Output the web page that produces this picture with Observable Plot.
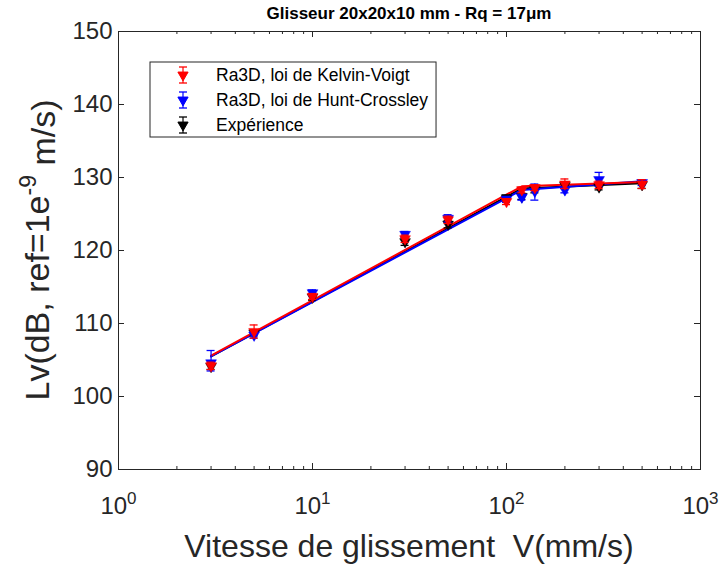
<!DOCTYPE html>
<html><head><meta charset="utf-8">
<script src="https://cdn.jsdelivr.net/npm/d3@7"></script>
<script src="https://cdn.jsdelivr.net/npm/@observablehq/plot@0.6"></script>
<style>body{margin:0;background:#fff}#chart svg{overflow:visible}</style>
</head><body><div id="chart"></div>
<script>
// ---- data ----
const speeds = [3, 5, 10, 30, 50, 100, 120, 140, 200, 300, 500];

const kelvinVoigt        = [104.2, 108.9, 113.7, 121.6, 124.2, 126.7, 128.3, 128.6, 129.1, 129.0, 129.1];
const kelvinVoigtErrLow  = [0.5, 0.9, 0.4, 0.5, 0.5, 0.4, 0.4, 0.4, 0.6, 0.5, 0.6];
const kelvinVoigtErrHigh = [0.5, 0.9, 0.4, 0.5, 0.5, 0.4, 0.4, 0.4, 0.7, 0.5, 0.6];

const huntCrossley        = [104.6, 108.4, 114.2, 122.2, 124.4, 127.0, 127.3, 128.1, 128.3, 129.7, 129.3];
const huntCrossleyErrLow  = [1.1, 0.4, 0.4, 0.4, 0.5, 0.4, 0.4, 1.2, 0.4, 0.9, 0.4];
const huntCrossleyErrHigh = [1.7, 0.4, 0.4, 0.4, 0.5, 0.4, 0.4, 1.0, 0.4, 1.0, 0.4];

const experience        = [104.1, 108.7, 113.6, 121.2, 123.6, 127.2, 127.4, 128.3, 128.9, 128.7, 129.0];
const experienceErrLow  = [0.4, 0.4, 0.4, 0.5, 0.5, 0.4, 0.4, 0.4, 0.4, 0.4, 0.5];
const experienceErrHigh = [0.4, 0.4, 0.4, 0.5, 0.5, 0.4, 0.4, 0.4, 0.4, 0.4, 0.5];

// fitted trend lines (V in mm/s, Lv in dB)
const fitSpeeds = [3, 120, 500];
const kelvinVoigtFit  = [105.6, 128.8, 129.4];
const huntCrossleyFit = [105.5, 128.3, 129.5];
const experienceFit   = [105.5, 128.5, 129.2];

const seriesNames = ["Ra3D, loi de Kelvin-Voigt", "Ra3D, loi de Hunt-Crossley", "Expérience"];
const seriesColors = ["#ff0000", "#0000ff", "#000000"];

const xTicks = [1, 10, 100, 1000];
const yTicks = [90, 100, 110, 120, 130, 140, 150];
const minorX = [1, 10, 100].flatMap(k => [2, 3, 4, 5, 6, 7, 8, 9].map(m => m * k));

const titleText = "Glisseur 20x20x10 mm - Rq = 17\u03BCm";
const xLabel = "Vitesse de glissement  V(mm/s)";

// ---- build tables ----
function table(vals, lo, hi, name) {
  return speeds.map((v, i) => ({v, lv: vals[i], lo: vals[i] - lo[i], hi: vals[i] + hi[i], name}));
}
const sets = [
  table(experience, experienceErrLow, experienceErrHigh, seriesNames[2]),
  table(huntCrossley, huntCrossleyErrLow, huntCrossleyErrHigh, seriesNames[1]),
  table(kelvinVoigt, kelvinVoigtErrLow, kelvinVoigtErrHigh, seriesNames[0])
];
const fits = [
  {vals: experienceFit, name: seriesNames[2]},
  {vals: huntCrossleyFit, name: seriesNames[1]},
  {vals: kelvinVoigtFit, name: seriesNames[0]}
].map(f => fitSpeeds.map((v, i) => ({v, lv: f.vals[i], name: f.name})));

const W = 726, H = 571;
const mL = 118, mR = 26, mT = 31, mB = 102;
const fw = W - mL - mR, fh = H - mT - mB;
const axisColor = "#262626";
const colorOf = n => seriesColors[seriesNames.indexOf(n)];

const marks = [];
for (const f of fits) {
  marks.push(Plot.line(f, {x: "v", y: "lv", stroke: colorOf(f[0].name), strokeWidth: 2}));
}
for (const s of sets) {
  const c = colorOf(s[0].name);
  marks.push(Plot.ruleX(s, {x: "v", y1: "lo", y2: "hi", stroke: c, strokeWidth: 1.2}));
  marks.push(Plot.ruleY(s, {y: "lo", x1: "v", x2: "v", insetLeft: -4, insetRight: -4, stroke: c, strokeWidth: 1.3}));
  marks.push(Plot.ruleY(s, {y: "hi", x1: "v", x2: "v", insetLeft: -4, insetRight: -4, stroke: c, strokeWidth: 1.3}));
  marks.push(Plot.dot(s, {x: "v", y: "lv", symbol: "triangle", rotate: 180, r: 4, fill: c, stroke: c, strokeWidth: 0.5}));
}
marks.push(
  Plot.ruleX(xTicks, {x: d => d, insetTop: fh - 6, stroke: axisColor}),
  Plot.ruleX(xTicks, {x: d => d, insetBottom: fh - 6, stroke: axisColor}),
  Plot.ruleX(minorX, {x: d => d, insetTop: fh - 3, stroke: axisColor}),
  Plot.ruleX(minorX, {x: d => d, insetBottom: fh - 3, stroke: axisColor}),
  Plot.ruleY(yTicks, {y: d => d, insetRight: fw - 6, stroke: axisColor}),
  Plot.ruleY(yTicks, {y: d => d, insetLeft: fw - 6, stroke: axisColor}),
  Plot.axisX(xTicks, {tickSize: 0, tickPadding: 27, fontSize: 24, tickFormat: d => String(Math.round(Math.log10(d))), label: null, color: axisColor}),
  Plot.axisY(yTicks, {tickSize: 0, tickPadding: 6, fontSize: 24, label: null, color: axisColor}),
  Plot.frame({stroke: axisColor, strokeWidth: 1})
);

const chart = Plot.plot({
  width: W, height: H,
  marginLeft: mL, marginRight: mR, marginTop: mT, marginBottom: mB,
  style: {fontFamily: "'Liberation Sans', Arial, sans-serif", background: "#fff", color: axisColor},
  x: {type: "log", domain: [1, 1000]},
  y: {domain: [90, 150]},
  marks
});
document.getElementById("chart").appendChild(chart);

const svg = d3.select(chart);
svg.selectAll('g[aria-label="x-axis tick label"] text').each(function () {
  const t = d3.select(this);
  const k = t.text();
  t.text("");
  t.append("tspan").text("10");
  t.append("tspan").attr("dy", "-0.55em").style("font-size", "17px").text(k);
});

const font = "'Liberation Sans', Arial, sans-serif";
svg.append("text").attr("x", mL + fw / 2).attr("y", 19).attr("text-anchor", "middle")
  .style("font-family", font).style("font-size", "17px").style("font-weight", "bold").attr("fill", "#000").text(titleText);
svg.append("text").attr("x", mL + fw / 2).attr("y", 557).attr("text-anchor", "middle")
  .style("font-family", font).style("font-size", "32px").attr("fill", axisColor).text(xLabel);
const yl = svg.append("text").attr("transform", `translate(49,${mT + fh / 2}) rotate(-90)`).attr("text-anchor", "middle")
  .style("font-family", font).style("font-size", "34px").attr("fill", axisColor);
yl.append("tspan").text("Lv(dB, ref=1e");
yl.append("tspan").attr("dy", "-0.55em").style("font-size", "23px").text("-9");
yl.append("tspan").attr("dy", "0.55em").text(" m/s)");

// legend
const lg = svg.append("g");
const lx = 150, ly = 62, lh = 75;
const box = lg.append("rect").attr("x", lx).attr("y", ly).attr("height", lh)
  .attr("fill", "#fff").attr("stroke", axisColor).attr("stroke-width", 1);
let maxLen = 0;
seriesNames.forEach((n, i) => {
  const cy = ly + 13 + i * 25, cx = 183, c = seriesColors[i];
  const g = lg.append("g").attr("stroke", c);
  g.append("line").attr("x1", cx).attr("x2", cx).attr("y1", cy - 8).attr("y2", cy + 8).attr("stroke-width", 1.2);
  g.append("line").attr("x1", cx - 4).attr("x2", cx + 4).attr("y1", cy - 8).attr("y2", cy - 8).attr("stroke-width", 1.3);
  g.append("line").attr("x1", cx - 4).attr("x2", cx + 4).attr("y1", cy + 8).attr("y2", cy + 8).attr("stroke-width", 1.3);
  g.append("path").attr("d", d3.symbol(d3.symbolTriangle, 45)()).attr("transform", `translate(${cx},${cy}) rotate(180)`).attr("fill", c);
  const t = lg.append("text").attr("x", 216).attr("y", cy).attr("dy", "0.35em").attr("text-anchor", "start")
    .style("font-family", font).style("font-size", "17.5px").attr("fill", "#000").text(n);
  maxLen = Math.max(maxLen, t.node().getComputedTextLength());
});
box.attr("width", 216 - lx + maxLen + 8);
</script>
</body></html>
